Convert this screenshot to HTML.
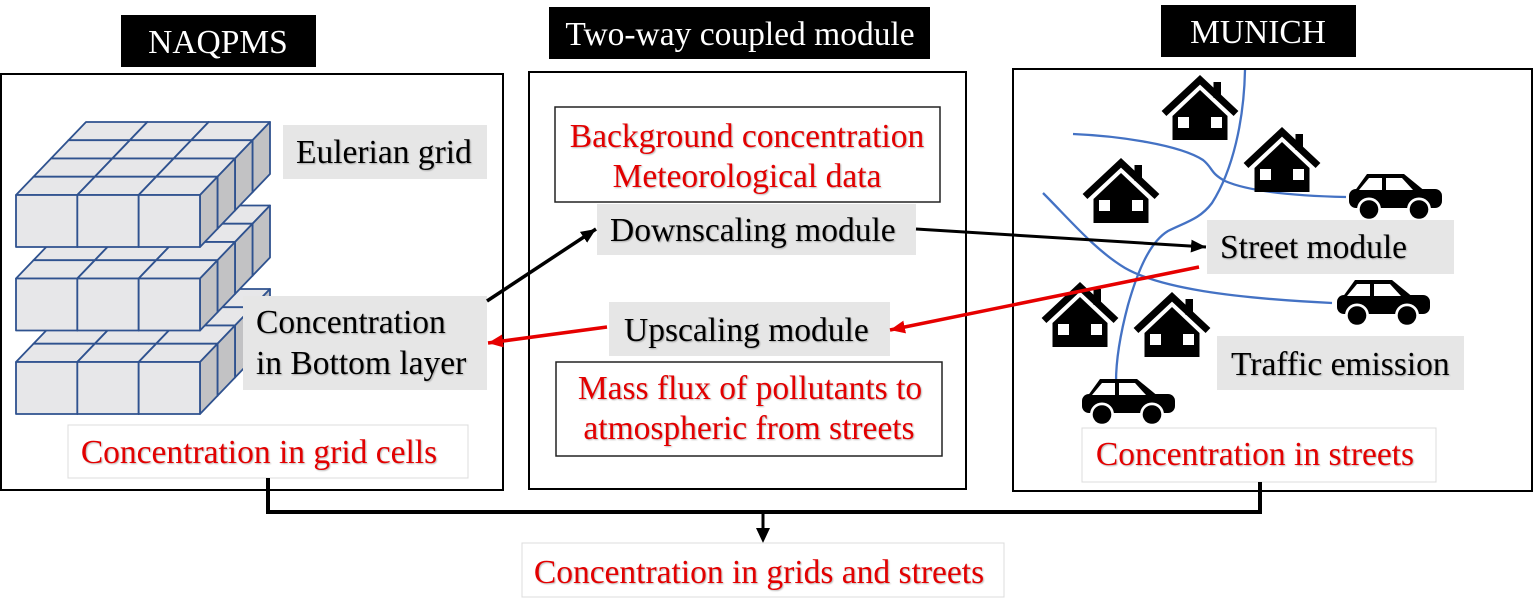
<!DOCTYPE html>
<html>
<head>
<meta charset="utf-8">
<style>
html,body{margin:0;padding:0;background:#fff;}
svg{display:block;}
text{font-family:"Liberation Serif","Times New Roman",serif;font-size:33.5px;}
.sh{text-shadow:1px 1px 1.5px rgba(0,0,0,0.28);}
.red{fill:#e30000;}
.blk{fill:#000;}
.wht{fill:#fff;}
</style>
</head>
<body>
<svg width="1533" height="600" viewBox="0 0 1533 600" xmlns="http://www.w3.org/2000/svg">
<defs>
  <g id="cube" stroke="#2f528f" stroke-width="1.8" stroke-linejoin="round">
    <polygon points="0,0 61.33,0 78.83,-18.25 17.5,-18.25" fill="#e7e7e9"/>
    <polygon points="61.33,0 78.83,-18.25 78.83,33.75 61.33,52" fill="#c2c2c4"/>
    <rect x="0" y="0" width="61.33" height="52" fill="#e7e7e9"/>
  </g>
  <g id="house">
    <polyline points="-36,37.5 0,3.8 36,37.5" fill="none" stroke="#000" stroke-width="7" stroke-linejoin="miter"/>
    <rect x="13.5" y="6" width="7.5" height="16" fill="#000"/>
    <polygon points="-27.5,64 -27.5,40 0,14 27.5,40 27.5,64" fill="#000"/>
    <rect x="-22" y="41" width="11" height="11" fill="#fff"/>
    <rect x="11" y="41" width="11" height="11" fill="#fff"/>
  </g>
  <g id="car">
    <polygon points="5,18 18,0 55,0 77,18" fill="#000"/>
    <rect x="0" y="15" width="93" height="19" rx="7" fill="#000"/>
    <polygon points="10,16 20,4 33,4 33,16" fill="#fff"/>
    <polygon points="37,4 53,4 64,16 37,16" fill="#fff"/>
    <circle cx="20" cy="35.5" r="12" fill="#fff"/>
    <circle cx="70" cy="35.5" r="12" fill="#fff"/>
    <circle cx="20" cy="35.5" r="9.3" fill="#000"/>
    <circle cx="70" cy="35.5" r="9.3" fill="#000"/>
  </g>
  <marker id="ab" markerUnits="userSpaceOnUse" markerWidth="16" markerHeight="14" refX="15" refY="6.5" orient="auto">
    <path d="M0,0 L15,6.5 L0,13 z" fill="#000"/>
  </marker>
  <marker id="ar" markerUnits="userSpaceOnUse" markerWidth="16" markerHeight="14" refX="15" refY="6.5" orient="auto">
    <path d="M0,0 L15,6.5 L0,13 z" fill="#e60000"/>
  </marker>
</defs>

<!-- Big boxes -->
<rect x="1" y="74" width="502" height="416" fill="#fff" stroke="#000" stroke-width="2"/>
<rect x="529" y="72" width="437" height="417" fill="#fff" stroke="#000" stroke-width="2"/>
<rect x="1013" y="69" width="519" height="422" fill="#fff" stroke="#000" stroke-width="2"/>

<!-- Title labels -->
<rect x="121" y="15" width="195" height="52" fill="#000"/>
<text x="218" y="53" text-anchor="middle" class="wht">NAQPMS</text>
<rect x="549" y="7" width="381" height="52" fill="#000"/>
<text x="740" y="45" text-anchor="middle" class="wht">Two-way coupled module</text>
<rect x="1161" y="5" width="195" height="52" fill="#000"/>
<text x="1258" y="43" text-anchor="middle" class="wht">MUNICH</text>

<!-- Eulerian grid cubes (3 columns x 4 depth rows x 3 layers), bottom layer first -->
<!-- Layer 3 -->
<use href="#cube" x="68.5" y="307.25"/><use href="#cube" x="129.83" y="307.25"/><use href="#cube" x="191.17" y="307.25"/>
<use href="#cube" x="51" y="325.5"/><use href="#cube" x="112.33" y="325.5"/><use href="#cube" x="173.67" y="325.5"/>
<use href="#cube" x="33.5" y="343.75"/><use href="#cube" x="94.83" y="343.75"/><use href="#cube" x="156.17" y="343.75"/>
<use href="#cube" x="16" y="362"/><use href="#cube" x="77.33" y="362"/><use href="#cube" x="138.67" y="362"/>
<!-- Layer 2 -->
<use href="#cube" x="68.5" y="223.75"/><use href="#cube" x="129.83" y="223.75"/><use href="#cube" x="191.17" y="223.75"/>
<use href="#cube" x="51" y="242"/><use href="#cube" x="112.33" y="242"/><use href="#cube" x="173.67" y="242"/>
<use href="#cube" x="33.5" y="260.25"/><use href="#cube" x="94.83" y="260.25"/><use href="#cube" x="156.17" y="260.25"/>
<use href="#cube" x="16" y="278.5"/><use href="#cube" x="77.33" y="278.5"/><use href="#cube" x="138.67" y="278.5"/>
<!-- Layer 1 -->
<use href="#cube" x="68.5" y="140.25"/><use href="#cube" x="129.83" y="140.25"/><use href="#cube" x="191.17" y="140.25"/>
<use href="#cube" x="51" y="158.5"/><use href="#cube" x="112.33" y="158.5"/><use href="#cube" x="173.67" y="158.5"/>
<use href="#cube" x="33.5" y="176.75"/><use href="#cube" x="94.83" y="176.75"/><use href="#cube" x="156.17" y="176.75"/>
<use href="#cube" x="16" y="195"/><use href="#cube" x="77.33" y="195"/><use href="#cube" x="138.67" y="195"/>

<!-- Left box labels -->
<rect x="283" y="125" width="204" height="54" fill="#e6e6e6"/>
<text x="296" y="163" class="blk sh">Eulerian grid</text>
<rect x="243" y="296" width="244" height="94" fill="#e6e6e6"/>
<text x="256" y="333" class="blk sh">Concentration</text>
<text x="256" y="374" class="blk sh">in Bottom layer</text>
<rect x="68" y="425" width="400" height="53" fill="#fff" stroke="#dcdcdc" stroke-width="1"/>
<text x="259" y="463" text-anchor="middle" class="red sh">Concentration in grid cells</text>

<!-- Middle box labels -->
<rect x="555" y="107" width="385" height="95" fill="#fff" stroke="#222" stroke-width="1.5"/>
<text x="747" y="147" text-anchor="middle" class="red sh">Background concentration</text>
<text x="747" y="187" text-anchor="middle" class="red sh">Meteorological data</text>
<rect x="597" y="204" width="319" height="51" fill="#e6e6e6"/>
<text x="610" y="241" class="blk sh">Downscaling module</text>
<rect x="609" y="302" width="281" height="54" fill="#e6e6e6"/>
<text x="624" y="341" class="blk sh">Upscaling module</text>
<rect x="556" y="362" width="386" height="94" fill="#fff" stroke="#222" stroke-width="1.5"/>
<text x="750" y="399" text-anchor="middle" class="red sh">Mass flux of pollutants to</text>
<text x="749" y="439" text-anchor="middle" class="red sh">atmospheric from streets</text>

<!-- Roads -->
<g fill="none" stroke="#4472c4" stroke-width="2.3">
  <path d="M1245,70 C1244,120 1233,170 1212,203 C1200,219 1186,222 1168,231 C1150,242 1138,270 1128,305 C1120,335 1116,360 1116,382"/>
  <path d="M1073,134 C1120,136 1180,145 1203,160 C1213,168 1210,173 1225,181 C1250,192 1300,196 1346,197"/>
  <path d="M1043,193 C1070,220 1095,250 1125,268 C1160,288 1230,298 1332,303"/>
</g>

<!-- Houses -->
<use href="#house" x="1200" y="76"/>
<use href="#house" x="1282" y="128"/>
<use href="#house" x="1121" y="159"/>
<use href="#house" x="1080" y="283"/>
<use href="#house" x="1172" y="293"/>

<!-- Cars -->
<use href="#car" x="1349" y="174"/>
<use href="#car" x="1337" y="280"/>
<use href="#car" x="1082" y="379"/>

<!-- Right box labels -->
<rect x="1207" y="220" width="247" height="54" fill="#e6e6e6"/>
<text x="1220" y="258" class="blk sh">Street module</text>
<rect x="1217" y="336" width="247" height="54" fill="#e6e6e6"/>
<text x="1231" y="375" class="blk sh">Traffic emission</text>
<rect x="1082" y="428" width="354" height="54" fill="#fff" stroke="#dcdcdc" stroke-width="1"/>
<text x="1255" y="465" text-anchor="middle" class="red sh">Concentration in streets</text>

<!-- Arrows -->
<line x1="487" y1="301" x2="596" y2="229" stroke="#000" stroke-width="3.5" marker-end="url(#ab)"/>
<line x1="916" y1="229" x2="1206" y2="247" stroke="#000" stroke-width="3" marker-end="url(#ab)"/>
<line x1="1199" y1="267" x2="890" y2="330" stroke="#e60000" stroke-width="3.5" marker-end="url(#ar)"/>
<line x1="607" y1="327" x2="488" y2="343" stroke="#e60000" stroke-width="3.5" marker-end="url(#ar)"/>

<!-- Bottom connector -->
<g stroke="#000" stroke-width="4" fill="none">
  <line x1="268" y1="478" x2="268" y2="514"/>
  <line x1="1260" y1="482" x2="1260" y2="514"/>
  <line x1="266" y1="512" x2="1262" y2="512"/>
</g>
<line x1="763" y1="512" x2="763" y2="530" stroke="#000" stroke-width="3"/>
<polygon points="756,528 770,528 763,543" fill="#000"/>

<rect x="522" y="543" width="482" height="54" fill="#fff" stroke="#dcdcdc" stroke-width="1"/>
<text x="759" y="583" text-anchor="middle" class="red sh">Concentration in grids and streets</text>
</svg>
</body>
</html>
